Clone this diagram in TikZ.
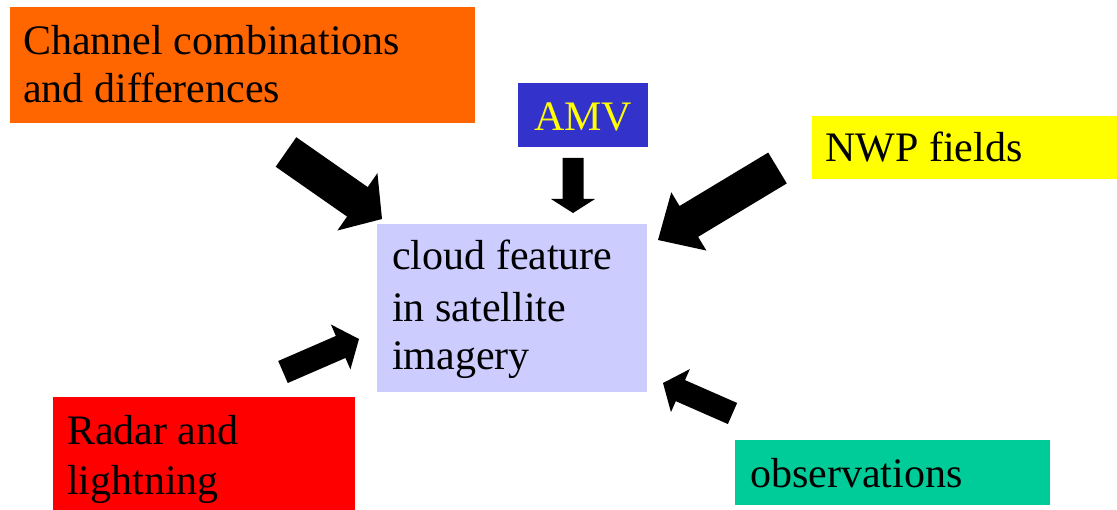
\documentclass[tikz,border=0pt]{standalone}
\usepackage{fontspec}
\setmainfont{Liberation Serif}
\usetikzlibrary{calc}
\definecolor{corange}{HTML}{FF6600}
\definecolor{camv}{HTML}{3333CC}
\definecolor{cyel}{HTML}{FFFF00}
\definecolor{clav}{HTML}{CCCCFF}
\definecolor{cred}{HTML}{FF0000}
\definecolor{cteal}{HTML}{00CC99}
\tikzset{
  box/.style={rectangle, draw=none, inner sep=0pt, anchor=north west},
  txt/.style={inner sep=0pt, anchor=base west, align=left,
    font=\fontsize{42}{48}\selectfont},
  blk/.style={fill=black, draw=none}
}
% #1 tail, #2 tip, #3 shaft half width, #4 head half width, #5 head length
\newcommand\blockarrow[5]{%
  \fill[blk] ($(#1)!#3!90:(#2)$)
    -- ($($(#2)!#5!(#1)$)!#3!-90:(#1)$)
    -- ($($(#2)!#5!(#1)$)!#4!-90:(#1)$)
    -- (#2)
    -- ($($(#2)!#5!(#1)$)!#4!90:(#1)$)
    -- ($($(#2)!#5!(#1)$)!#3!90:(#1)$)
    -- ($(#1)!#3!-90:(#2)$) -- cycle;}
\begin{document}
\begin{tikzpicture}[x=1pt,y=-1pt]
\useasboundingbox (0,0) rectangle (1117,510);
% boxes
\node[box, fill=corange, minimum width=465pt, minimum height=116pt] (chan) at (10,7) {};
\node[box, fill=camv, minimum width=130pt, minimum height=64pt] (amv) at (518,83) {};
\node[box, fill=cyel, minimum width=305pt, minimum height=63pt] (nwp) at (812,116) {};
\node[box, fill=clav, minimum width=270pt, minimum height=168pt] (cloud) at (377,224) {};
\node[box, fill=cred, minimum width=302pt, minimum height=113pt] (radar) at (53,397) {};
\node[box, fill=cteal, minimum width=315pt, minimum height=65pt] (obs) at (735,440) {};
% texts (multi-line nodes: base = last line's baseline)
\node[txt] (chant) at (23,103) {Channel combinations\\and differences};
\node[txt, anchor=base, text=cyel] (amvt) at (583,131) {AMV};
\node[txt] (nwpt) at (825,162) {NWP fields};
\node[txt] (cloudt) at (392,370) {cloud feature\\[4pt]in satellite\\imagery};
\node[txt] (radart) at (67,494) {Radar and\\[2pt]lightning};
\node[txt] (obst) at (750,487) {observations};
% arrow coordinates
\coordinate (a1t) at (286,152); \coordinate (a1h) at (382,219);
\coordinate (a2t) at (573,158); \coordinate (a2h) at (573,213);
\coordinate (a3t) at (777.5,168); \coordinate (a3h) at (658,240);
\coordinate (a4t) at (283,372); \coordinate (a4h) at (359,339);
\coordinate (a5t) at (732.5,413.5); \coordinate (a5h) at (663,383);
\blockarrow{a1t}{a1h}{18pt}{35pt}{30pt}
\blockarrow{a2t}{a2h}{10.5pt}{22pt}{14pt}
\blockarrow{a3t}{a3h}{18pt}{34pt}{36pt}
\blockarrow{a4t}{a4h}{12pt}{24.5pt}{20pt}
\blockarrow{a5t}{a5h}{11.5pt}{23.5pt}{19pt}
\end{tikzpicture}
\end{document}
